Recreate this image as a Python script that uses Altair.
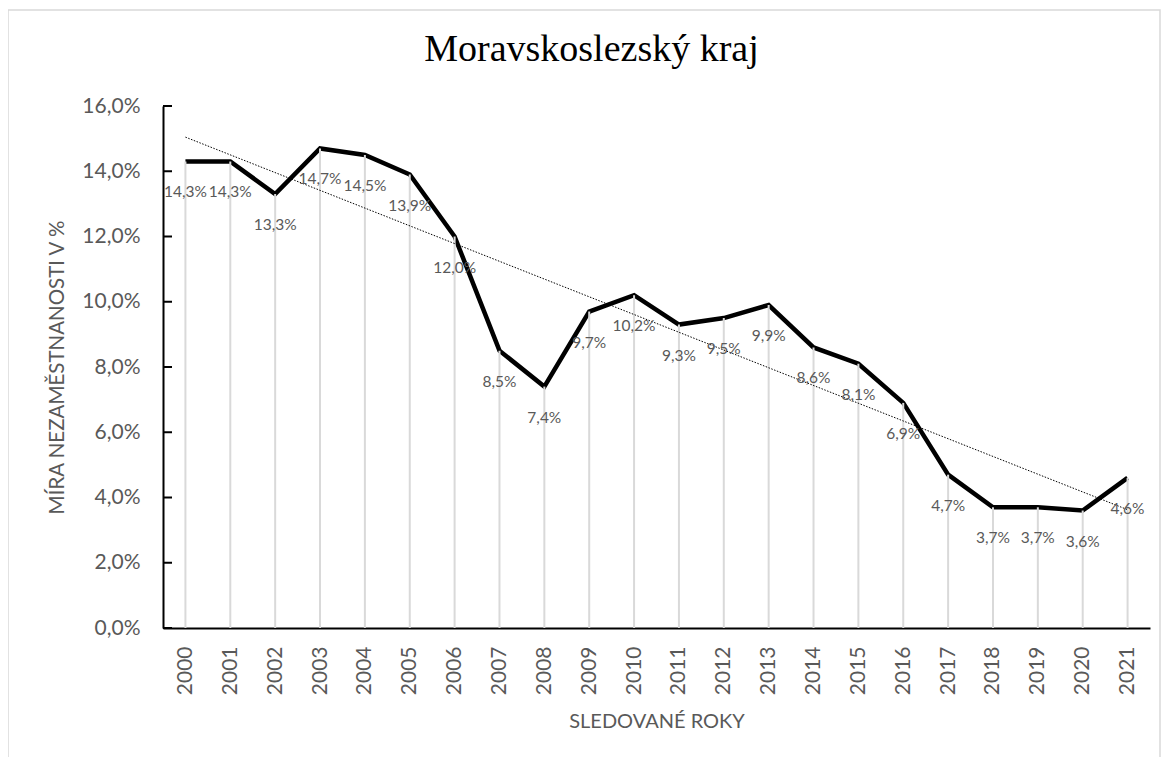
import altair as alt
import pandas as pd

years = list(range(2000, 2022))
values = [14.3, 14.3, 13.3, 14.7, 14.5, 13.9, 12.0, 8.5, 7.4, 9.7, 10.2,
          9.3, 9.5, 9.9, 8.6, 8.1, 6.9, 4.7, 3.7, 3.7, 3.6, 4.6]
y_ticks = [0, 2, 4, 6, 8, 10, 12, 14, 16]

df = pd.DataFrame({"year": years, "value": values})
ticks_df = pd.DataFrame({"tick": y_ticks})

GRAY = "#595959"
FONT = "Lato"

x_scale = alt.Scale(domain=[1999.5, 2021.5], nice=False, zero=False)
y_scale = alt.Scale(domain=[0, 16], nice=False)

x_enc = alt.X("year:Q", scale=x_scale,
              axis=alt.Axis(values=years, format="d", labelAngle=270, ticks=False,
                            grid=False, domainColor="black", domainWidth=2,
                            labelColor=GRAY, labelFontSize=21, labelFont=FONT,
                            labelPadding=18, title="SLEDOVANÉ ROKY",
                            titleColor=GRAY, titleFontSize=20, titleFont=FONT,
                            titleFontWeight="normal", titlePadding=17))
y_enc = alt.Y("value:Q", scale=y_scale,
              axis=alt.Axis(values=y_ticks, grid=False, domainColor="black", domainWidth=2,
                            ticks=False,
                            labelExpr="replace(format(datum.value, '.1f'), '.', ',') + '%'",
                            labelColor=GRAY, labelFontSize=21, labelFont=FONT,
                            labelPadding=23, title="MÍRA NEZAMĚSTNANOSTI V %",
                            titleColor=GRAY, titleFontSize=20.5, titleFont=FONT,
                            titleFontWeight="normal", titlePadding=14))

base = alt.Chart(df)

line = base.mark_line(color="black", strokeWidth=4.5, strokeJoin="miter").encode(
    x=x_enc, y=y_enc
)

frame = base.mark_rect(fill=None, stroke="#d9d9d9", strokeWidth=1.5).encode(
    x=alt.value(-155), x2=alt.value(997), y=alt.value(-96), y2=alt.value(670)
).transform_filter("datum.year == 2000")

yticks = alt.Chart(ticks_df).mark_rule(color="black", strokeWidth=2).encode(
    y=alt.Y("tick:Q", scale=y_scale), x=alt.value(0), x2=alt.value(9)
)

drops = base.mark_rule(color="#d9d9d9", strokeWidth=2).encode(
    x=alt.X("year:Q", scale=x_scale), y=alt.Y("value:Q", scale=y_scale), y2=alt.datum(0)
)

trend = base.transform_regression("year", "value").mark_line(
    color="black", strokeWidth=1, strokeDash=[1.5, 1.5]
).encode(
    x=alt.X("year:Q", scale=x_scale),
    y=alt.Y("value:Q", scale=y_scale)
)

labels = base.transform_calculate(
    lab="replace(format(datum.value, '.1f'), '.', ',') + '%'"
).mark_text(font=FONT, fontSize=15.5, color=GRAY, dy=31, baseline="middle").encode(
    x=alt.X("year:Q", scale=x_scale),
    y=alt.Y("value:Q", scale=y_scale),
    text="lab:N"
)

chart = alt.layer(line, frame, yticks, drops, trend, labels).properties(
    width=987, height=522,
    title=alt.TitleParams("Moravskoslezský kraj", font="Liberation Serif", fontSize=38,
                          fontWeight="normal", color="black", anchor="middle",
                          baseline="alphabetic", dx=-65, dy=90, offset=0),
    autosize=alt.AutoSizeParams(type="none"),
    padding={"left": 155, "top": 98, "right": 11, "bottom": 135},
).configure_view(stroke=None)

chart.save("out.html", embed_options={"renderer": "svg", "actions": False})
